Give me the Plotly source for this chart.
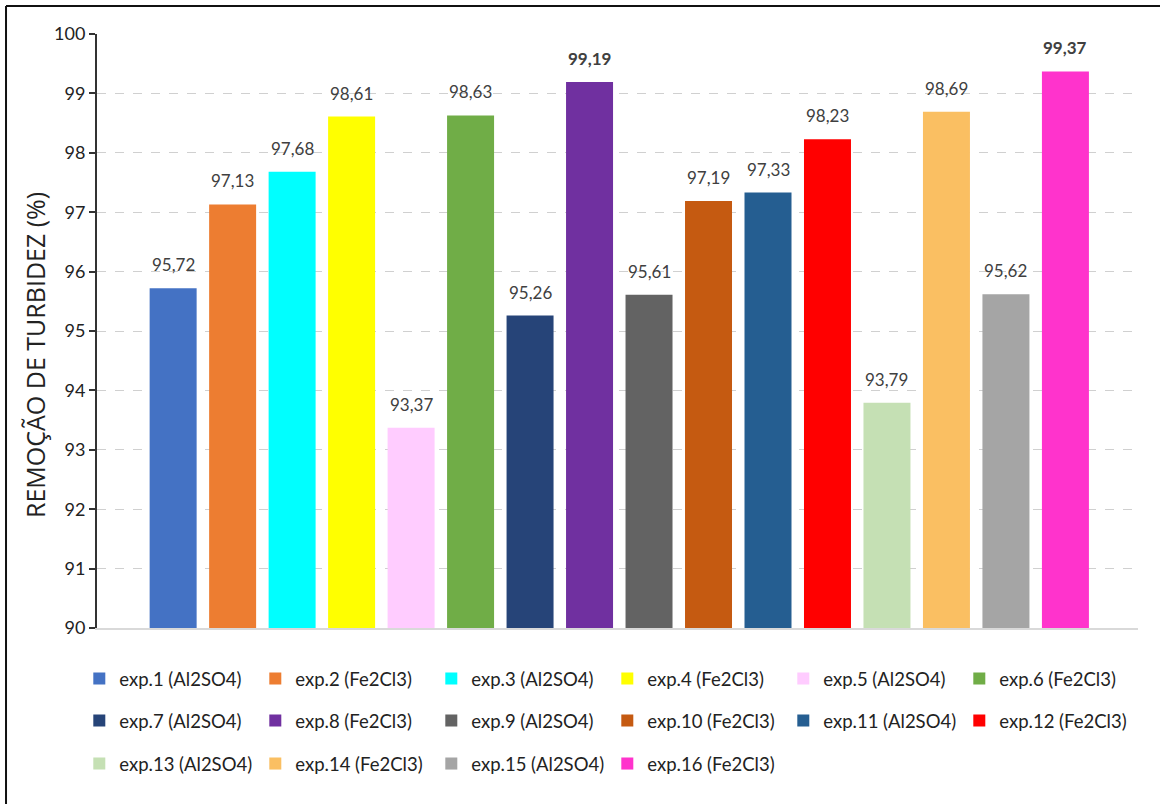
import plotly.graph_objects as go

labels = [
    "exp.1 (Al2SO4)", "exp.2 (Fe2Cl3)", "exp.3 (Al2SO4)", "exp.4 (Fe2Cl3)",
    "exp.5 (Al2SO4)", "exp.6 (Fe2Cl3)", "exp.7 (Al2SO4)", "exp.8 (Fe2Cl3)",
    "exp.9 (Al2SO4)", "exp.10 (Fe2Cl3)", "exp.11 (Al2SO4)", "exp.12 (Fe2Cl3)",
    "exp.13 (Al2SO4)", "exp.14 (Fe2Cl3)", "exp.15 (Al2SO4)", "exp.16 (Fe2Cl3)",
]
remocao = [95.72, 97.13, 97.68, 98.61, 93.37, 98.63, 95.26, 99.19,
           95.61, 97.19, 97.33, 98.23, 93.79, 98.69, 95.62, 99.37]
colors = ["#4472C4", "#ED7D31", "#00FFFF", "#FFFF00", "#FFCCFF", "#70AD47",
          "#264478", "#7030A0", "#636363", "#C55A11", "#255E91", "#FF0000",
          "#C5E0B4", "#FABF62", "#A5A5A5", "#FF33CC"]
bold_labels = {7, 15}
y_ticks = list(range(90, 101))

FONT = "Lato, sans-serif"

fig = go.Figure()
for i, (name, val, col) in enumerate(zip(labels, remocao, colors)):
    fig.add_trace(go.Bar(
        x=[i], y=[val], name=name, width=0.79,
        marker=dict(color=col, line=dict(width=0)),
        legend=["legend", "legend2", "legend3"][i // 6],
    ))
    txt = f"{val:.2f}".replace(".", ",")
    if i in bold_labels:
        txt = f"<b>{txt}</b>"
    fig.add_annotation(x=i, y=val, text=txt, showarrow=False,
                       yanchor="bottom", yshift=11,
                       font=dict(family=FONT, size=17, color="#404040"))

# rotated axis title, sitting a little below the plot's vertical centre
fig.add_annotation(xref="paper", yref="paper", x=-0.0596, y=0.4596,
                   xanchor="center", yanchor="middle", textangle=-90,
                   text="REMOÇÃO DE TURBIDEZ (%)", showarrow=False,
                   font=dict(family="Open Sans, sans-serif", size=25,
                             color="#222222"))

legend_common = dict(orientation="h", xanchor="left", yanchor="middle",
                     x=-0.017, entrywidth=131, entrywidthmode="pixels",
                     font=dict(family=FONT, size=18.5, color="#222222"),
                     bgcolor="rgba(0,0,0,0)", itemclick=False)

fig.update_layout(
    width=1160, height=804,
    margin=dict(l=97, r=22, t=34, b=176),
    paper_bgcolor="white", plot_bgcolor="white",
    barmode="overlay",
    showlegend=True,
    legend=dict(**legend_common, y=-0.0859),
    legend2=dict(**legend_common, y=-0.1566),
    legend3=dict(**legend_common, y=-0.2290),
    xaxis=dict(range=[-1.28, 16.22], showticklabels=False, ticks="",
               showgrid=False, zeroline=False, showline=True,
               linecolor="#D9D9D9", linewidth=1.5),
    yaxis=dict(range=[90, 100], tickmode="array",
               tickvals=y_ticks, ticktext=[str(v) for v in y_ticks],
               ticks="outside", ticklen=6, tickwidth=2, tickcolor="#333333",
               showline=True, linecolor="#333333", linewidth=2,
               showgrid=True, gridcolor="#D0D0D0", griddash="dash", gridwidth=1,
               zeroline=False,
               tickfont=dict(family=FONT, size=18, color="#222222")),
    shapes=[
        dict(type="line", xref="paper", yref="paper",
             x0=-0.0874, x1=1.03, y0=1.0471, y1=1.0471,
             line=dict(color="#111111", width=2)),
        dict(type="line", xref="paper", yref="paper",
             x0=-0.0874, x1=-0.0874, y0=1.0471, y1=-0.30,
             line=dict(color="#111111", width=2)),
    ],
)

fig.write_html("out.html")
